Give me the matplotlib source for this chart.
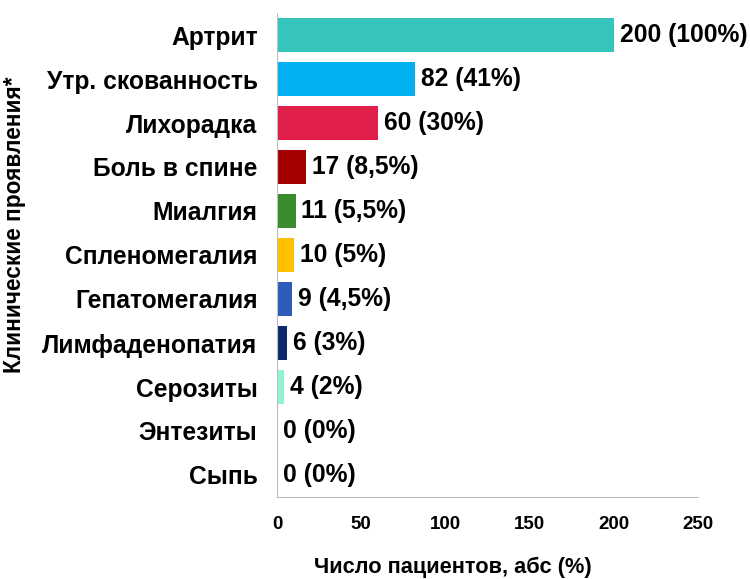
import numpy as np
import matplotlib.pyplot as plt

plt.rcParams['font.family'] = ['Liberation Sans', 'DejaVu Sans']
plt.rcParams['font.weight'] = 'bold'

# Клинические проявления и число пациентов
categories = ['Артрит', 'Утр. скованность', 'Лихорадка', 'Боль в спине', 'Миалгия',
              'Спленомегалия', 'Гепатомегалия', 'Лимфаденопатия', 'Серозиты',
              'Энтезиты', 'Сыпь']
counts = [200, 82, 60, 17, 11, 10, 9, 6, 4, 0, 0]
labels = ['200 (100%)', '82 (41%)', '60 (30%)', '17 (8,5%)', '11 (5,5%)', '10 (5%)',
          '9 (4,5%)', '6 (3%)', '4 (2%)', '0 (0%)', '0 (0%)']
colors = ['#36C5BA', '#00B0F0', '#E0204A', '#A50000', '#3A8C2E', '#FFC000',
          '#2E5CB8', '#0C2A6B', '#8FF5CF', '#FFFFFF', '#FFFFFF']
xticks = [0, 50, 100, 150, 200, 250]

fig = plt.figure(figsize=(7.5, 5.79), dpi=100)
ax = fig.add_axes([277 / 750, 1 - 497 / 579, (698 - 277) / 750, (497 - 13) / 579])

y = np.arange(len(categories))
ax.barh(y, counts, height=0.76, color=colors)
for yi, c, lab in zip(y, counts, labels):
    ax.text(c + 3.5, yi, lab, va='center', ha='left', fontsize=17.7, fontweight='bold')

ax.set_yticks(y)
ax.set_yticklabels(categories, fontsize=17.7, fontweight='bold')
ax.set_ylim(len(categories) - 0.5, -0.5)
ax.set_xlim(0, 250)
ax.set_xticks(xticks)
ax.set_xticklabels([str(t) for t in xticks], fontsize=13.5, fontweight='bold')
ax.tick_params(axis='both', length=0)
ax.tick_params(axis='y', pad=14)
ax.tick_params(axis='x', pad=14)

for s in ['top', 'right']:
    ax.spines[s].set_visible(False)
ax.spines['left'].set_color('#BFBFBF')
ax.spines['bottom'].set_color('#BFBFBF')

fig.text(453 / 750, 1 - 567 / 579, 'Число пациентов, абс (%)', ha='center', va='center',
         fontsize=15.7, fontweight='bold')
fig.text(15 / 750, 1 - 225 / 579, 'Клинические проявления*', rotation=90,
         ha='center', va='center', fontsize=16.3, fontweight='bold')

fig.savefig('out.png', dpi=100)
